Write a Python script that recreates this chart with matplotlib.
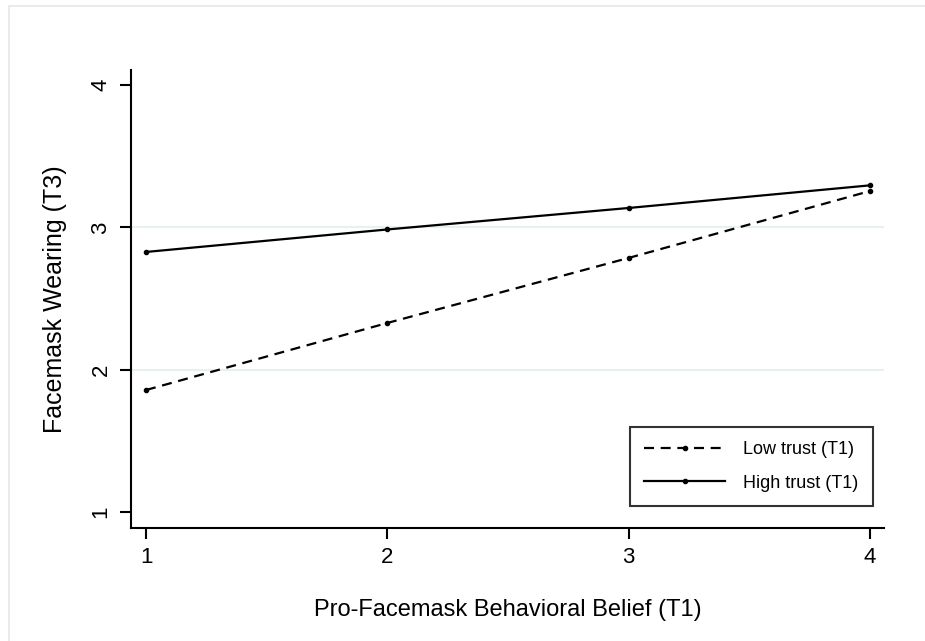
import matplotlib
matplotlib.use("Agg")
import matplotlib.pyplot as plt
from matplotlib.patches import Rectangle

x_vals = [1, 2, 3, 4]
low_trust = [1.857, 2.328, 2.785, 3.255]
high_trust = [2.827, 2.985, 3.136, 3.295]
series_labels = ["Low trust (T1)", "High trust (T1)"]
y_ticks = [1, 2, 3, 4]
x_label = "Pro-Facemask Behavioral Belief (T1)"
y_label = "Facemask Wearing (T3)"

plt.rcParams['font.family'] = ['Liberation Sans', 'DejaVu Sans']

fig = plt.figure(figsize=(9.25, 6.41), dpi=100)
fig.patches.append(Rectangle((9/925, -0.01), 1.0, 1 - 6/641 + 0.01, transform=fig.transFigure,
                             fill=False, edgecolor='#e6e6e6', linewidth=1.2))
ax = fig.add_axes([131/925, (641-528)/641, (884-131)/925, (528-70)/641])

for yv in [2, 3]:
    ax.axhline(yv, color='#e8f0f1', lw=1.5, zorder=0)

ax.plot(x_vals, low_trust, color='black', ls=(0, (4.5, 3)), lw=1.6, marker='o', ms=3, label=series_labels[0])
ax.plot(x_vals, high_trust, color='black', ls='-', lw=1.6, marker='o', ms=3, label=series_labels[1])

ax.set_xlim(1 - 15/241.3, 4 + 14/241.3)
ax.set_ylim(1 - 16/142.3, 4 + 15/142.3)
ax.set_xticks(x_vals)
ax.set_yticks(y_ticks)
ax.tick_params(axis='both', length=8, width=1.5, labelsize=16, direction='out', pad=6)
for lbl in ax.get_yticklabels():
    lbl.set_rotation(90)
    lbl.set_va('center')
ax.spines['top'].set_visible(False)
ax.spines['right'].set_visible(False)
for s in ['left', 'bottom']:
    ax.spines[s].set_linewidth(1.5)

ax.set_xlabel(x_label, fontsize=17, labelpad=22)
ax.set_ylabel(y_label, fontsize=18, labelpad=17)

leg = ax.legend(loc='lower right', bbox_to_anchor=((873-131)/753, (528-506)/458), fontsize=13,
                frameon=True, fancybox=False, edgecolor='black', handlelength=4.5,
                borderpad=0.8, labelspacing=0.9, handletextpad=1.0, borderaxespad=0)
leg.get_frame().set_linewidth(1.5)

fig.savefig("out.png", dpi=100, facecolor='white')
